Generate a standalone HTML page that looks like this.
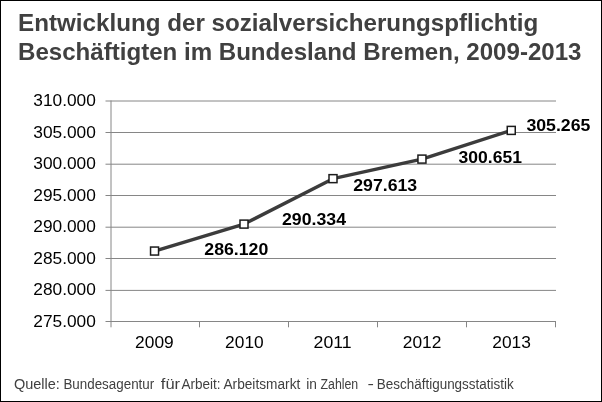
<!DOCTYPE html>
<html lang="de">
<head>
<meta charset="utf-8">
<title>Entwicklung der sozialversicherungspflichtig Beschäftigten im Bundesland Bremen, 2009-2013</title>
<style>
html,body{margin:0;padding:0;background:#fff;}
body{width:602px;height:402px;overflow:hidden;font-family:"Liberation Sans",Arial,sans-serif;}
svg{display:block;will-change:transform;}
.t{font-family:"Liberation Sans",Arial,sans-serif;}
.title{font-weight:bold;font-size:24px;fill:#404040;}
.ax{font-size:17.3px;fill:#000;}
.dl{font-size:17.3px;font-weight:bold;fill:#000;}
.src{font-size:14px;fill:#404040;}
</style>
</head>
<body>
<svg width="602" height="402" viewBox="0 0 602 402">
<rect x="0" y="0" width="602" height="402" fill="#fff"/>
<rect x="0.5" y="0.5" width="601" height="401" fill="none" stroke="#000" stroke-width="1"/>
<g class="t title">
<text id="t1" x="18" y="30.5" textLength="520.2" lengthAdjust="spacingAndGlyphs">Entwicklung der sozialversicherungspflichtig</text>
<text id="t2" x="18" y="60" textLength="563.5" lengthAdjust="spacingAndGlyphs">Beschäftigten im Bundesland Bremen, 2009-2013</text>
</g>
<g stroke="#868686" stroke-width="1" fill="none">
<path d="M105.5 101H556M105.5 132.5H556M105.5 164.2H556M105.5 195.5H556M105.5 227.2H556M105.5 258.5H556M105.5 290.4H556M105.5 321.5H556"/>
<path d="M111 100.5V327.3M199.5 321.5V327.3M288.5 321.5V327.3M377.5 321.5V327.3M466.5 321.5V327.3M555.5 321.5V327.3"/>
</g>
<g class="t ax">
<text x="33.3" y="106.1" textLength="62.5" lengthAdjust="spacingAndGlyphs">310.000</text>
<text x="33.3" y="137.6" textLength="62.5" lengthAdjust="spacingAndGlyphs">305.000</text>
<text x="33.3" y="169.1" textLength="62.5" lengthAdjust="spacingAndGlyphs">300.000</text>
<text x="33.3" y="200.6" textLength="62.5" lengthAdjust="spacingAndGlyphs">295.000</text>
<text x="33.3" y="232.1" textLength="62.5" lengthAdjust="spacingAndGlyphs">290.000</text>
<text x="33.3" y="263.6" textLength="62.5" lengthAdjust="spacingAndGlyphs">285.000</text>
<text x="33.3" y="295.1" textLength="62.5" lengthAdjust="spacingAndGlyphs">280.000</text>
<text x="33.3" y="326.6" textLength="62.5" lengthAdjust="spacingAndGlyphs">275.000</text>
</g>
<g class="t ax">
<text x="135.1" y="348.3" textLength="38.6" lengthAdjust="spacingAndGlyphs">2009</text>
<text x="225.1" y="348.3" textLength="38.6" lengthAdjust="spacingAndGlyphs">2010</text>
<text x="313.6" y="348.3" textLength="38.0" lengthAdjust="spacingAndGlyphs">2011</text>
<text x="402.8" y="348.3" textLength="38.6" lengthAdjust="spacingAndGlyphs">2012</text>
<text x="492.3" y="348.3" textLength="38.6" lengthAdjust="spacingAndGlyphs">2013</text>
</g>
<polyline points="154.55,251.05 244.0,224.1 333.0,178.65 421.95,159.1 511.25,130.4" fill="none" stroke="#3c3c3c" stroke-width="3.4" stroke-linejoin="round"/>
<g fill="#fff" stroke="#1c1c1c" stroke-width="1.5">
<rect x="150.55" y="247.05" width="8" height="8"/>
<rect x="240.00" y="220.10" width="8" height="8"/>
<rect x="329.00" y="174.65" width="8" height="8"/>
<rect x="417.95" y="155.10" width="8" height="8"/>
<rect x="507.25" y="126.40" width="8" height="8"/>
</g>
<g class="t dl">
<text x="204.3" y="254.8" textLength="64" lengthAdjust="spacingAndGlyphs">286.120</text>
<text x="282.0" y="225.0" textLength="64" lengthAdjust="spacingAndGlyphs">290.334</text>
<text x="353.2" y="191.4" textLength="64" lengthAdjust="spacingAndGlyphs">297.613</text>
<text x="458.6" y="163.4" textLength="63.3" lengthAdjust="spacingAndGlyphs">300.651</text>
<text x="526.4" y="130.5" textLength="64" lengthAdjust="spacingAndGlyphs">305.265</text>
</g>
<g class="t src" id="src">
<text x="13.95" y="389" textLength="45.95" lengthAdjust="spacingAndGlyphs">Quelle:</text>
<text x="63.45" y="389" textLength="90.75" lengthAdjust="spacingAndGlyphs">Bundesagentur</text>
<text x="160.80" y="389" textLength="19.30" lengthAdjust="spacingAndGlyphs">für</text>
<text x="181.50" y="389" textLength="39.00" lengthAdjust="spacingAndGlyphs">Arbeit:</text>
<text x="223.45" y="389" textLength="76.85" lengthAdjust="spacingAndGlyphs">Arbeitsmarkt</text>
<text x="306.20" y="389" textLength="10.70" lengthAdjust="spacingAndGlyphs">in</text>
<text x="320.50" y="389" textLength="37.70" lengthAdjust="spacingAndGlyphs">Zahlen</text>
<text x="367.50" y="389" textLength="6.40" lengthAdjust="spacingAndGlyphs">-</text>
<text x="376.80" y="389" textLength="136.90" lengthAdjust="spacingAndGlyphs">Beschäftigungsstatistik</text>
</g>
</svg>
</body>
</html>
